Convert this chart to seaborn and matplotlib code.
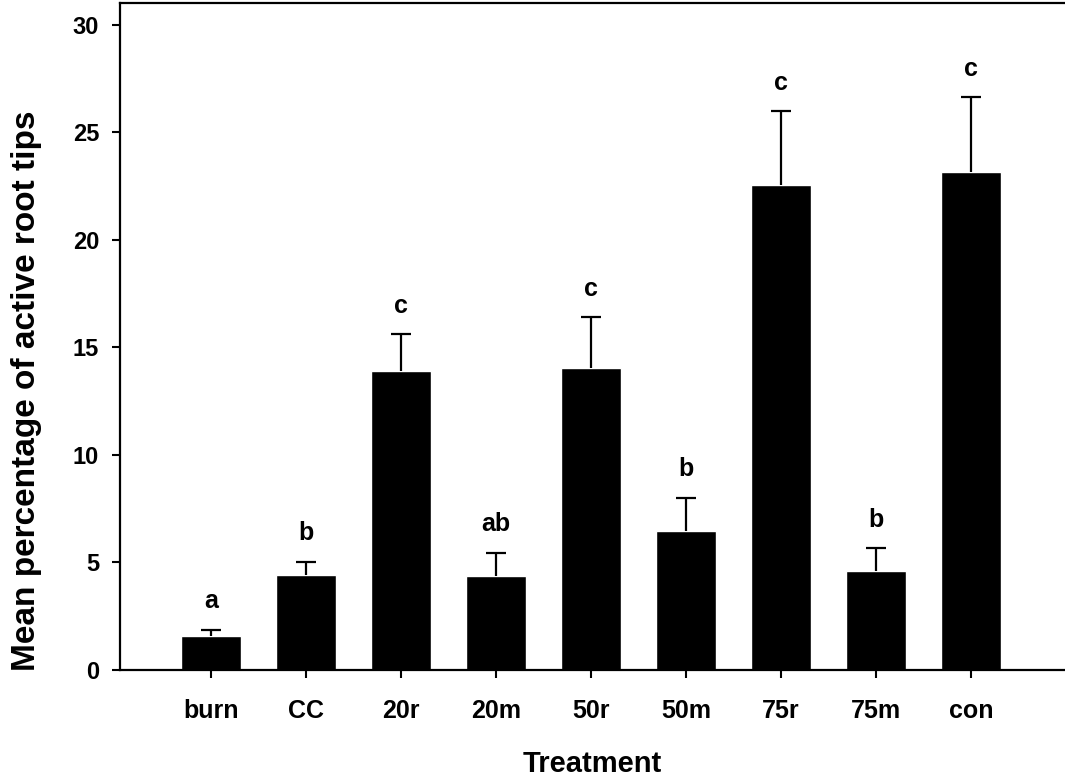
import matplotlib
matplotlib.use("Agg")
import matplotlib.pyplot as plt
import seaborn as sns
import numpy as np
import pandas as pd

treatments = ['burn', 'CC', '20r', '20m', '50r', '50m', '75r', '75m', 'con']
means = [1.58, 4.42, 13.91, 4.39, 14.03, 6.48, 22.56, 4.62, 23.13]
errors = [0.28, 0.62, 1.69, 1.07, 2.36, 1.52, 3.41, 1.04, 3.49]
letters = ['a', 'b', 'c', 'ab', 'c', 'b', 'c', 'b', 'c']
y_ticks = [0, 5, 10, 15, 20, 25, 30]

sns.set_style("ticks")
plt.rcParams['font.family'] = ['Liberation Sans', 'DejaVu Sans']
plt.rcParams['font.weight'] = 'bold'
plt.rcParams['text.color'] = 'black'
plt.rcParams['axes.labelcolor'] = 'black'
plt.rcParams['xtick.color'] = 'black'
plt.rcParams['ytick.color'] = 'black'

df = pd.DataFrame({'Treatment': treatments, 'Mean': means, 'SE': errors})

fig = plt.figure(figsize=(10.65, 7.82), dpi=100)
ax = fig.add_axes([120/1065, 112/782, 1 - 120/1065, 667/782])

sns.barplot(data=df, x='Treatment', y='Mean', color='black', saturation=1,
            width=0.63, errorbar=None, ax=ax)

xpos = np.arange(len(treatments))
eb = ax.errorbar(xpos, df['Mean'], yerr=[np.zeros(len(errors)), df['SE']],
                 fmt='none', ecolor='black', elinewidth=1.6, capsize=7.5, capthick=1.6)
# show only the upper cap
eb.lines[1][0].set_visible(False)

for i, (m, e, l) in enumerate(zip(df['Mean'], df['SE'], letters)):
    ax.annotate(l, (i, m + e), xytext=(0, 12), textcoords='offset points',
                ha='center', va='bottom', fontsize=18, fontweight='bold', color='black')

ax.set_xlim(-0.96, 8.99)
ax.set_ylim(0, 31.0)
ax.set_yticks(y_ticks)
ax.set_yticklabels([str(t) for t in y_ticks])

for s in ['left', 'bottom', 'top']:
    ax.spines[s].set_linewidth(1.6)
    ax.spines[s].set_color('black')
ax.spines['right'].set_visible(False)

ax.tick_params(axis='both', direction='out', length=6, width=1.5)
ax.tick_params(axis='y', labelsize=17, pad=9)
ax.tick_params(axis='x', labelsize=18, pad=15)
for lab in ax.get_xticklabels() + ax.get_yticklabels():
    lab.set_fontweight('bold')

ax.set_xlabel('Treatment', fontsize=21, fontweight='bold', labelpad=19)
ax.set_ylabel('Mean percentage of active root tips', fontsize=24, fontweight='bold')
ax.yaxis.set_label_coords(-0.083, 0.418)

fig.savefig('out.png', dpi=100)
